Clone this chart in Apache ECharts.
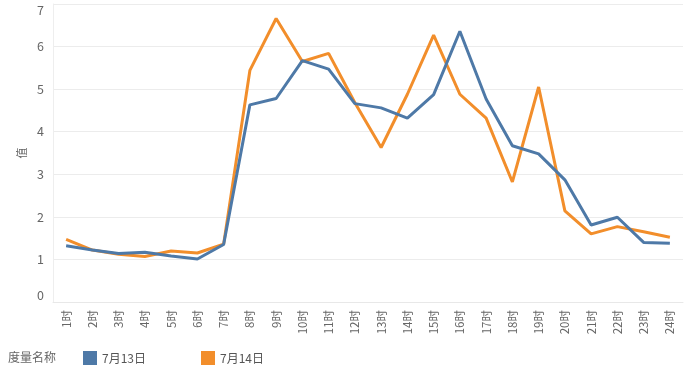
<!DOCTYPE html>
<html><head><meta charset="utf-8">
<script src="https://cdn.jsdelivr.net/npm/echarts@6/dist/echarts.min.js"></script>
<style>html,body{margin:0;padding:0;background:#fff}#c{width:692px;height:370px}</style>
</head><body><div id="c"></div>
<script>
const categories = ['1时','2时','3时','4时','5时','6时','7时','8时','9时','10时','11时','12时','13时','14时','15时','16时','17时','18时','19时','20时','21时','22时','23时','24时'];
const seriesNames = ['7月13日','7月14日'];
const jul13 = [1.32,1.22,1.14,1.17,1.08,1.01,1.35,4.63,4.78,5.67,5.47,4.66,4.56,4.32,4.87,6.36,4.77,3.67,3.48,2.87,1.81,1.99,1.40,1.38];
const jul14 = [1.47,1.22,1.12,1.07,1.20,1.15,1.36,5.44,6.66,5.65,5.84,4.68,3.63,4.88,6.27,4.88,4.32,2.82,5.05,2.14,1.60,1.77,1.65,1.52];
const yTicks = [0,1,2,3,4,5,6,7];
const legendTitle = '度量名称';
const yName = '值';

const chart = echarts.init(document.getElementById('c'));
const font = '"Noto Sans CJK SC", "Noto Sans", sans-serif';
chart.setOption({
  animation: false,
  color: ['#4e79a7', '#f28e2b'],
  textStyle: { fontFamily: font },
  grid: { left: 53, right: 9, top: 4, bottom: 68 },
  graphic: [
    { type: 'text', left: 8, top: 351, style: { text: legendTitle, fill: '#666', font: '12px ' + font } },
    { type: 'text', x: 22, y: 153, rotation: Math.PI / 2, style: { text: yName, fill: '#666', font: '11px ' + font, align: 'center', verticalAlign: 'middle' } }
  ],
  legend: {
    left: 78, top: 346, itemWidth: 14, itemHeight: 14, itemGap: 55,
    icon: 'rect',
    data: seriesNames,
    textStyle: { color: '#555', fontSize: 12, fontFamily: font }
  },
  xAxis: {
    type: 'category',
    data: categories,
    boundaryGap: true,
    axisLine: { show: true, lineStyle: { color: '#e8e8e8' } },
    axisTick: { show: false },
    axisLabel: { rotate: 90, color: '#666', fontSize: 11.5, margin: 8, align: 'right', fontFamily: font }
  },
  yAxis: {
    type: 'value',
    min: yTicks[0], max: yTicks[yTicks.length - 1], interval: 1,
    axisLine: { show: true, lineStyle: { color: '#eeeeee' } },
    axisTick: { show: false },
    splitLine: { lineStyle: { color: '#ececec' } },
    axisLabel: { color: '#666', fontSize: 12.5, margin: 9, fontFamily: font,
      verticalAlignMinLabel: 'bottom', verticalAlignMaxLabel: 'top' }
  },
  series: [
    { name: seriesNames[0], type: 'line', data: jul13, symbol: 'none', lineStyle: { width: 3 }, z: 3 },
    { name: seriesNames[1], type: 'line', data: jul14, symbol: 'none', lineStyle: { width: 3 }, z: 2 }
  ]
});
</script></body></html>
